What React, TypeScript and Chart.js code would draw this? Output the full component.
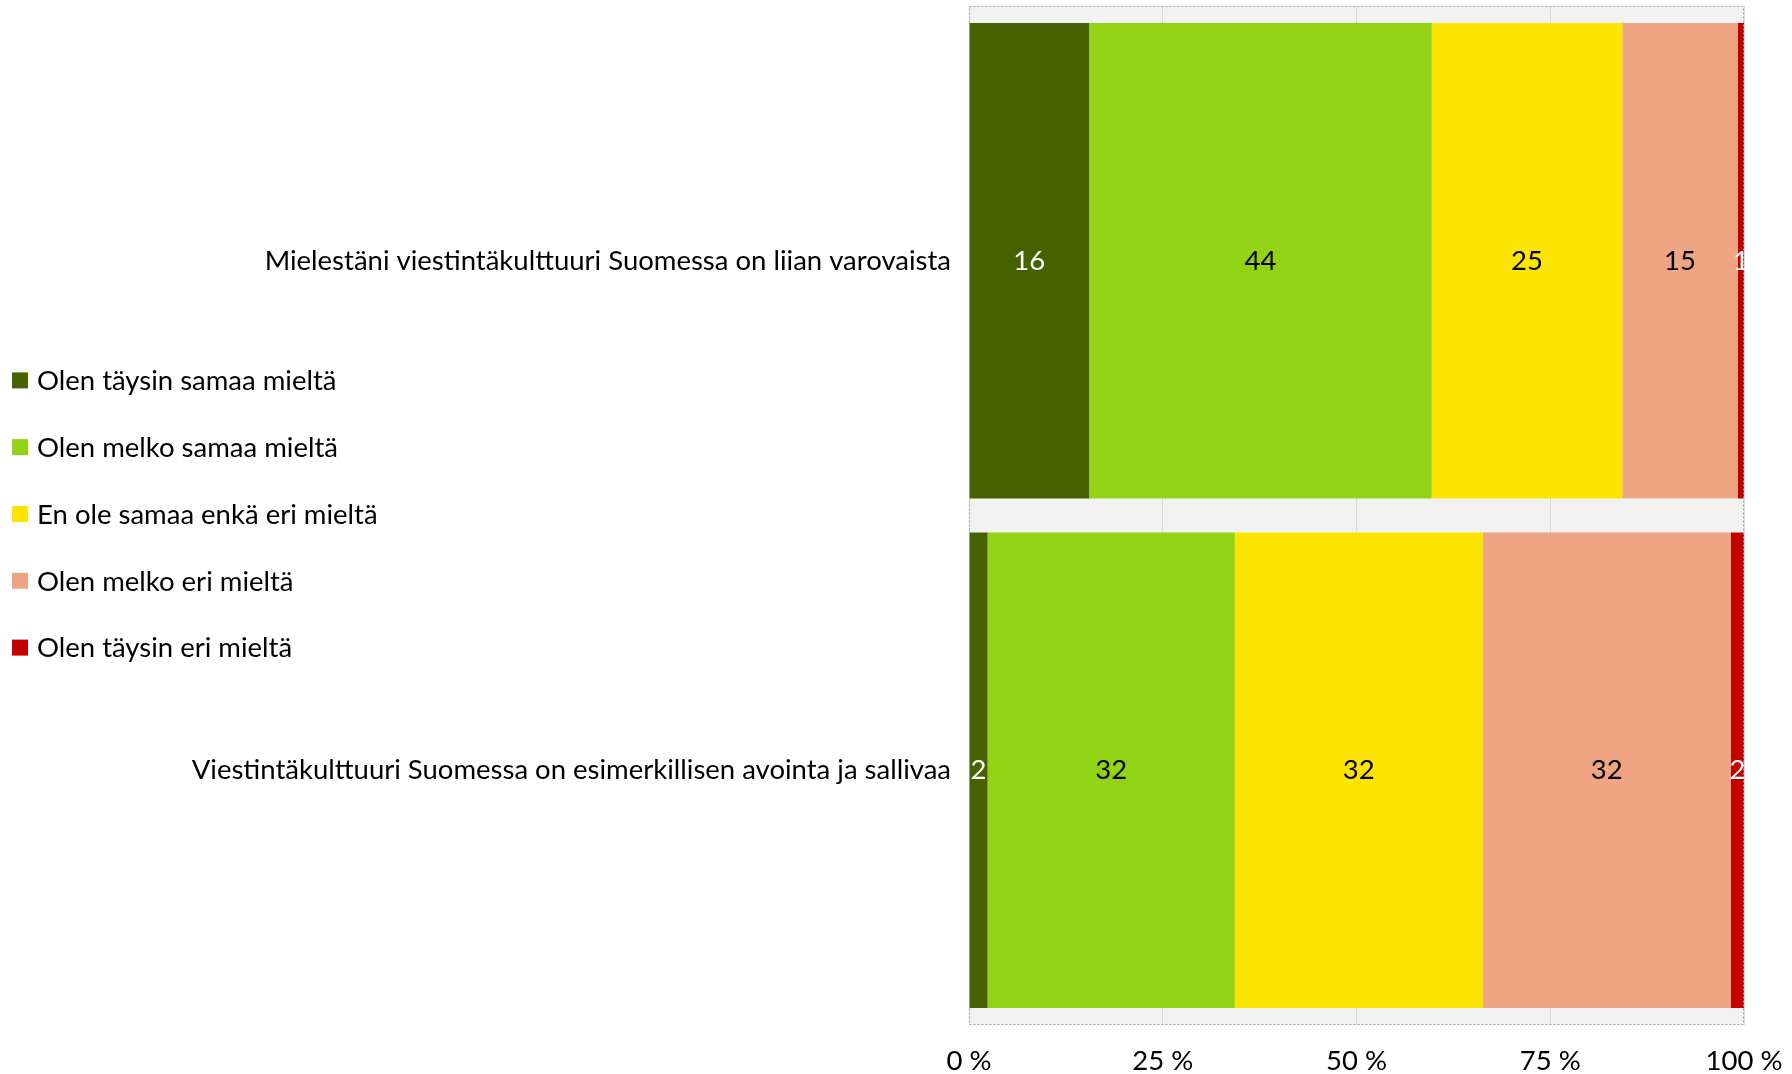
import React, { useEffect, useRef } from "react";
import { Chart, registerables } from "chart.js";

Chart.register(...registerables);

// ---- Data ----
const categories = [
  "Mielestäni viestintäkulttuuri Suomessa on liian varovaista",
  "Viestintäkulttuuri Suomessa on esimerkillisen avointa ja sallivaa",
];
const seriesNames = [
  "Olen täysin samaa mieltä",
  "Olen melko samaa mieltä",
  "En ole samaa enkä eri mieltä",
  "Olen melko eri mieltä",
  "Olen täysin eri mieltä",
];
const taysinSamaa = [15.5, 2.4];
const melkoSamaa = [44.2, 31.9];
const eiSamaaEiEri = [24.6, 32.0];
const melkoEri = [14.9, 32.0];
const taysinEri = [0.8, 1.7];
const xTicks = [0, 25, 50, 75, 100];

// ---- Styles ----
const seriesColors = ["#466100", "#93d316", "#fce500", "#efa583", "#c20000"];
const labelColors = ["#ffffff", "#000000", "#000000", "#000000", "#ffffff"];
const FONT = "Lato";
const FONT_SIZE = 27.5;

export default function App() {
  const ref = useRef<HTMLCanvasElement | null>(null);

  useEffect(() => {
    if (!ref.current) return;
    const values = [taysinSamaa, melkoSamaa, eiSamaaEiEri, melkoEri, taysinEri];

    const plotPlugin = {
      id: "plotDecor",
      beforeDraw(chart: any) {
        const { ctx, chartArea: a } = chart;
        ctx.save();
        ctx.fillStyle = "#f2f2f2";
        ctx.fillRect(a.left, a.top, a.right - a.left, a.bottom - a.top);
        ctx.restore();
      },
      afterDatasetsDraw(chart: any) {
        const { ctx, chartArea: a } = chart;
        ctx.save();
        ctx.strokeStyle = "#a0a0a0";
        ctx.lineWidth = 1;
        ctx.setLineDash([2, 2]);
        ctx.strokeRect(a.left + 0.5, a.top + 0.5, a.right - a.left - 1, a.bottom - a.top - 1);
        ctx.setLineDash([]);
        // data labels
        ctx.font = `${FONT_SIZE}px ${FONT}`;
        ctx.textAlign = "center";
        ctx.textBaseline = "middle";
        chart.data.datasets.forEach((ds: any, di: number) => {
          const meta = chart.getDatasetMeta(di);
          meta.data.forEach((el: any, i: number) => {
            const v = ds.data[i];
            const cx = (el.x + el.base) / 2;
            ctx.fillStyle = labelColors[di];
            ctx.fillText(String(Math.round(v)), cx, el.y);
          });
        });
        ctx.restore();
      },
      afterDraw(chart: any) {
        const { ctx, chartArea: a } = chart;
        const center = (a.top + a.bottom) / 2 - 1.5;
        const step = 66.8;
        const n = chart.data.datasets.length;
        ctx.save();
        ctx.font = `${FONT_SIZE}px ${FONT}`;
        ctx.textAlign = "left";
        ctx.textBaseline = "middle";
        chart.data.datasets.forEach((ds: any, i: number) => {
          const y = center + (i - (n - 1) / 2) * step;
          ctx.fillStyle = ds.backgroundColor;
          ctx.fillRect(12, y - 8, 16, 16);
          ctx.fillStyle = "#000000";
          ctx.fillText(ds.label, 37, y + 1);
        });
        ctx.restore();
      },
    };

    const chart = new Chart(ref.current, {
      type: "bar",
      data: {
        labels: categories,
        datasets: seriesNames.map((name, i) => ({
          label: name,
          data: values[i],
          backgroundColor: seriesColors[i],
          borderWidth: 0,
          barPercentage: 0.933,
          categoryPercentage: 1,
        })),
      },
      options: {
        indexAxis: "y",
        responsive: false,
        animation: false,
        layout: { padding: { top: 6, right: 48, bottom: 0, left: 0 } },
        plugins: {
          legend: { display: false },
          tooltip: { enabled: false },
        },
        scales: {
          x: {
            type: "linear",
            stacked: true,
            min: 0,
            max: 100,
            afterBuildTicks: (s: any) => {
              s.ticks = xTicks.map((v) => ({ value: v }));
            },
            afterFit: (s: any) => {
              s.paddingLeft = 0;
              s.paddingRight = 0;
              s.height = 49;
            },
            ticks: {
              callback: (v: any) => `${v} %`,
              font: { family: FONT, size: FONT_SIZE, lineHeight: 1 },
              color: "#000000",
              padding: 22,
              maxRotation: 0,
            },
            grid: {
              color: "#d9d9d9",
              lineWidth: 1,
              drawTicks: false,
            },
            border: { display: false },
          },
          y: {
            type: "category",
            stacked: true,
            afterFit: (s: any) => {
              s.width = 969;
              s.paddingTop = 0;
              s.paddingBottom = 0;
            },
            ticks: {
              font: { family: FONT, size: FONT_SIZE },
              color: "#000000",
              padding: 18,
            },
            grid: { display: false, drawTicks: false },
            border: { display: false },
          },
        },
      },
      plugins: [plotPlugin],
    } as any);

    return () => chart.destroy();
  }, []);

  return (
    <div style={{ position: "fixed", left: 0, top: 0, width: 1792, height: 1074, background: "#ffffff" }}>
      <canvas ref={ref} width={1792} height={1074} style={{ width: 1792, height: 1074, display: "block" }} />
    </div>
  );
}
